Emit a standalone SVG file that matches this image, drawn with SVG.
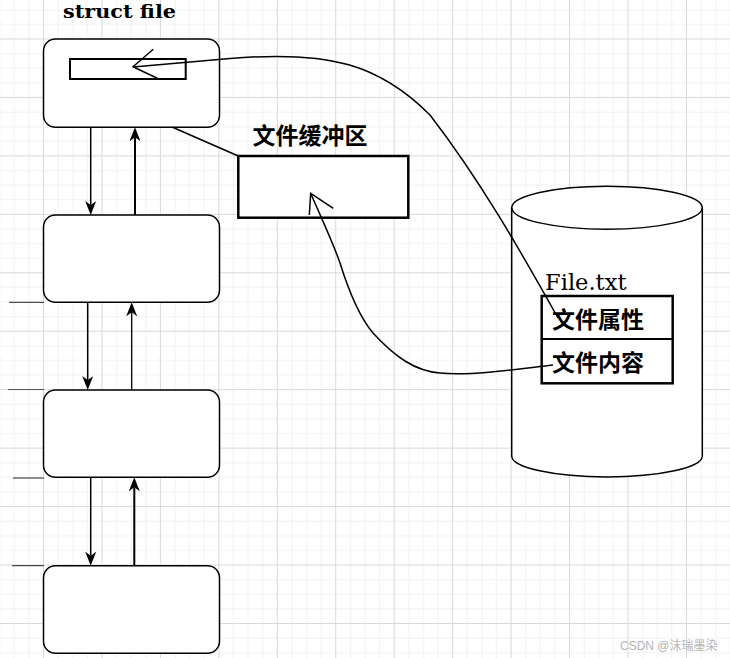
<svg xmlns="http://www.w3.org/2000/svg" width="730" height="658" viewBox="0 0 730 658">
  <defs>
    <pattern id="grid" x="43" y="38.5" width="58.45" height="58.45" patternUnits="userSpaceOnUse">
      <path d="M15.1,0V58.45M29.7,0V58.45M44.3,0V58.45M0,15.1H58.45M0,29.7H58.45M0,44.3H58.45" stroke="#f1f1f1" stroke-width="1" fill="none"/>
      <path d="M0.5,0V58.45M0,0.5H58.45" stroke="#d8d8d8" stroke-width="1" fill="none"/>
    </pattern>
    <marker id="arr" viewBox="0 0 14 11" markerWidth="14" markerHeight="11" refX="4" refY="5.5" orient="auto" markerUnits="userSpaceOnUse">
      <path d="M0,0 L14,5.5 L0,11 L4,5.5 Z" fill="#000"/>
    </marker>
    <style>
      .box { fill: #fff; stroke: #000; stroke-width: 1.5; }
      .thick { fill: #fff; stroke: #000; stroke-width: 2.5; }
      .ln { fill: none; stroke: #000; stroke-width: 1.5; }
      .cn { font-family: "Noto Sans CJK SC", sans-serif; font-weight: bold; font-size: 23px; fill: #000; }
      .serif { font-family: "DejaVu Serif", "Liberation Serif", serif; fill: #000; }
    </style>
  </defs>

  <rect width="730" height="658" fill="#fff"/>
  <rect width="730" height="658" fill="url(#grid)"/>

  <g id="edge-lines" stroke="#222" stroke-width="1">
    <line x1="9" y1="302.3" x2="44" y2="302.3"/>
    <line x1="8" y1="389.5" x2="44" y2="389.5" stroke="#555"/>
    <line x1="13" y1="478" x2="44" y2="478"/>
    <line x1="12" y1="565.7" x2="44" y2="565.7"/>
  </g>

  <g id="node-struct-file">
    <text class="serif" x="63" y="18" font-size="19" font-weight="bold" textLength="113" lengthAdjust="spacingAndGlyphs">struct file</text>
    <rect class="box" x="43.5" y="39" width="176" height="88.3" rx="12"/>
    <rect x="70" y="59" width="115.7" height="20" fill="#fff" stroke="#000" stroke-width="2"/>
  </g>

  <g id="node-2">
    <rect class="box" x="43.5" y="215" width="176" height="87.3" rx="12"/>
  </g>
  <g id="node-3">
    <rect class="box" x="43.5" y="390" width="176" height="87.3" rx="12"/>
  </g>
  <g id="node-4">
    <rect class="box" x="43.5" y="565.7" width="176" height="87.6" rx="12"/>
  </g>

  <g id="node-buffer">
    <text class="cn" x="252.5" y="144">文件缓冲区</text>
    <rect class="thick" x="238.3" y="156" width="170" height="61.7"/>
  </g>

  <g id="node-file-txt">
    <path class="box" d="M511.7,207.7 A95.3,21.5 0 0 1 702.3,207.7 L702.3,456 A95.3,21 0 0 1 511.7,456 Z"/>
    <path class="ln" d="M511.7,207.7 A95.3,21.5 0 0 0 702.3,207.7"/>
    <text class="serif" x="545" y="290" font-size="22" textLength="81.5" lengthAdjust="spacingAndGlyphs">File.txt</text>
    <rect class="thick" x="541.7" y="296" width="131" height="87.3"/>
    <line x1="541.7" y1="339" x2="672.7" y2="339" stroke="#000" stroke-width="2"/>
    <text class="cn" x="552" y="327.5">文件属性</text>
    <text class="cn" x="552" y="371">文件内容</text>
  </g>

  <g id="connectors">
    <line x1="90.7" y1="127.3" x2="90.7" y2="205" class="ln" marker-end="url(#arr)"/>
    <line x1="135" y1="215" x2="135" y2="137.3" fill="none" stroke="#000" stroke-width="2" marker-end="url(#arr)"/>
    <line x1="87.7" y1="302.3" x2="87.7" y2="380" class="ln" marker-end="url(#arr)"/>
    <line x1="131.7" y1="390" x2="131.7" y2="312.3" fill="none" stroke="#000" stroke-width="1.3" marker-end="url(#arr)"/>
    <line x1="90.7" y1="477.3" x2="90.7" y2="555.7" class="ln" marker-end="url(#arr)"/>
    <line x1="134.3" y1="565.7" x2="134.3" y2="487.3" fill="none" stroke="#000" stroke-width="2" marker-end="url(#arr)"/>

    <line x1="172" y1="127" x2="238.3" y2="156" class="ln"/>

    <path class="ln" d="M558,318 C520,250 480,180 430,115 C380,65 330,50 230,58.5 L133,67"/>
    <path class="ln" d="M153.3,49.3 L133,66.7 L157.3,78.3"/>

    <path class="ln" d="M553,365 C520,369 470,376 440,373 C415,371 395,357 373,333 C362,320 350,295 340,263 C332,240 320,215 311,194"/>
    <path class="ln" d="M309.3,215 L310.7,193.3 L333.3,208.3"/>
  </g>

  <text x="620" y="650" font-family="Liberation Sans, 'Noto Sans CJK SC', sans-serif" font-size="12" fill="#b5b5b5">CSDN @沫瑞墨染</text>
</svg>
